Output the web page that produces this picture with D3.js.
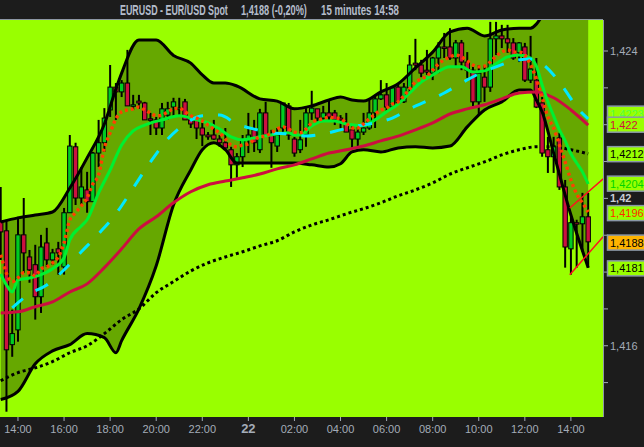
<!DOCTYPE html>
<html>
<head>
<meta charset="utf-8">
<script src="https://cdn.jsdelivr.net/npm/d3@7/dist/d3.min.js"></script>
<style>
  html, body { margin: 0; padding: 0; background: #1c1c1c; }
  svg { display: block; }
</style>
</head>
<body>
<svg id="chart" width="644" height="447"></svg>
<script>
// EURUSD 15 min — candles + bollinger + médias
const startTime = new Date(2009, 6, 21, 13, 15);
const barMinutes = 15;

const opens = [1.41936,1.41912,1.41603,1.41643,1.41901,1.41841,1.41820,1.41733,1.41879,1.41833,
  1.41863,1.41814,1.41961,1.42140,1.42001,1.42023,1.41991,1.42123,1.42151,1.42240,
  1.42302,1.42289,1.42313,1.42251,1.42264,1.42259,1.42216,1.42213,1.42191,1.42226,
  1.42248,1.42245,1.42262,1.42213,1.42213,1.42191,1.42172,1.42172,1.42161,1.42151,
  1.42132,1.42091,1.42113,1.42161,1.42186,1.42132,1.42232,1.42172,1.42142,1.42191,
  1.42251,1.42161,1.42132,1.42172,1.42232,1.42243,1.42218,1.42232,1.42232,1.42218,
  1.42202,1.42186,1.42161,1.42180,1.42191,1.42232,1.42270,1.42281,1.42248,1.42302,
  1.42262,1.42300,1.42367,1.42362,1.42348,1.42340,1.42381,1.42411,1.42411,1.42381,
  1.42422,1.42370,1.42348,1.42262,1.42329,1.42302,1.42433,1.42441,1.42433,1.42422,
  1.42395,1.42411,1.42321,1.42321,1.42259,1.42132,1.42113,1.42164,1.42031,1.41863,
  1.41934,1.41931,1.41950];
const highs = [1.42031,1.41942,1.41698,1.41950,1.42001,1.41860,1.41874,1.41901,1.41920,1.41863,
  1.41882,1.41974,1.42172,1.42151,1.42085,1.42072,1.42126,1.42213,1.42245,1.42362,
  1.42313,1.42321,1.42403,1.42281,1.42281,1.42262,1.42232,1.42221,1.42259,1.42262,
  1.42273,1.42273,1.42270,1.42221,1.42221,1.42213,1.42180,1.42213,1.42172,1.42191,
  1.42140,1.42123,1.42172,1.42232,1.42213,1.42243,1.42262,1.42186,1.42191,1.42259,
  1.42259,1.42167,1.42213,1.42245,1.42292,1.42243,1.42251,1.42267,1.42240,1.42226,
  1.42232,1.42199,1.42194,1.42232,1.42267,1.42281,1.42321,1.42313,1.42302,1.42313,
  1.42313,1.42389,1.42433,1.42376,1.42403,1.42384,1.42424,1.42449,1.42462,1.42430,
  1.42430,1.42397,1.42357,1.42362,1.42362,1.42479,1.42479,1.42471,1.42471,1.42435,
  1.42424,1.42422,1.42441,1.42381,1.42275,1.42167,1.42167,1.42178,1.42050,1.41950,
  1.41942,1.42015,1.42015];
const lows = [1.41833,1.41421,1.41570,1.41611,1.41798,1.41771,1.41671,1.41689,1.41814,1.41820,
  1.41793,1.41793,1.41961,1.41982,1.41980,1.41961,1.41991,1.42085,1.42126,1.42221,
  1.42213,1.42275,1.42251,1.42240,1.42243,1.42213,1.42172,1.42172,1.42172,1.42213,
  1.42221,1.42226,1.42213,1.42191,1.42161,1.42142,1.42159,1.42159,1.42140,1.42132,
  1.42031,1.42056,1.42085,1.42123,1.42126,1.42123,1.42172,1.42083,1.42126,1.42172,
  1.42159,1.42113,1.42123,1.42140,1.42213,1.42205,1.42213,1.42213,1.42199,1.42191,
  1.42180,1.42137,1.42140,1.42172,1.42186,1.42191,1.42267,1.42235,1.42245,1.42254,
  1.42259,1.42289,1.42348,1.42329,1.42335,1.42321,1.42340,1.42381,1.42376,1.42357,
  1.42348,1.42327,1.42245,1.42226,1.42262,1.42289,1.42389,1.42408,1.42395,1.42376,
  1.42370,1.42316,1.42313,1.42245,1.42113,1.42069,1.42069,1.42023,1.41812,1.41793,
  1.41812,1.41855,1.41812];
const closes = [1.41909,1.41589,1.41633,1.41901,1.41852,1.41806,1.41733,1.41868,1.41833,1.41852,
  1.41852,1.41961,1.42142,1.42001,1.42031,1.41991,1.42123,1.42151,1.42218,1.42302,
  1.42289,1.42313,1.42251,1.42254,1.42259,1.42213,1.42213,1.42191,1.42243,1.42243,
  1.42262,1.42245,1.42213,1.42202,1.42191,1.42172,1.42167,1.42161,1.42151,1.42137,
  1.42091,1.42113,1.42161,1.42172,1.42151,1.42232,1.42172,1.42151,1.42172,1.42259,
  1.42172,1.42123,1.42159,1.42232,1.42245,1.42218,1.42232,1.42221,1.42213,1.42213,
  1.42180,1.42161,1.42180,1.42191,1.42232,1.42270,1.42281,1.42248,1.42300,1.42259,
  1.42302,1.42362,1.42362,1.42340,1.42343,1.42381,1.42411,1.42408,1.42381,1.42422,
  1.42370,1.42348,1.42262,1.42340,1.42302,1.42433,1.42441,1.42433,1.42422,1.42381,
  1.42422,1.42321,1.42351,1.42248,1.42123,1.42113,1.42140,1.42031,1.41868,1.41934,
  1.41931,1.41950,1.41882];

// bandas de bollinger (mesmos índices de barra)
const bandIdx = [0,3,6,9,12,15,18,20,21,24,27,30,33,35,37,39,41,45,48,51,54,57,59,61,63,66,69,72,75,78,81,84,87,90,92,93,94,96,99,102];
const upperBand = [1.41936,1.41947,1.41955,1.41963,1.42028,1.42110,1.42202,1.42297,1.42340,1.42430,
  1.42430,1.42388,1.42367,1.42335,1.42313,1.42313,1.42305,1.42270,1.42264,1.42243,
  1.42251,1.42267,1.42275,1.42267,1.42264,1.42289,1.42311,1.42354,1.42397,1.42452,
  1.42462,1.42441,1.42457,1.42462,1.42462,1.42473,1.42495,1.42547,1.42587,1.42620];
const lowerBand = [1.41454,1.41476,1.41551,1.41586,1.41603,1.41633,1.41622,1.41581,1.41614,1.41700,
  1.41817,1.41982,1.42077,1.42132,1.42151,1.42132,1.42096,1.42096,1.42096,1.42096,
  1.42091,1.42085,1.42094,1.42126,1.42132,1.42126,1.42137,1.42140,1.42137,1.42142,
  1.42194,1.42240,1.42262,1.42294,1.42294,1.42267,1.42235,1.42123,1.41955,1.41812];

const middleBand = [[2,1.41703],[5,1.41741],[8,1.41765],[11,1.41806],[14,1.41855],[17,1.41904],
  [20,1.41958],[23,1.42028],[26,1.42099],[29,1.42161],[32,1.42202],[35,1.42224],[38,1.42226],
  [41,1.42202],[44,1.42188],[47,1.42178],[50,1.42175],[53,1.42169],[56,1.42175],[59,1.42186],
  [62,1.42197],[65,1.42205],[68,1.42218],[71,1.42243],[74,1.42264],[77,1.42286],[80,1.42313],
  [83,1.42338],[86,1.42357],[89,1.42373],[92,1.42378],[94,1.42365],[96,1.42335],[98,1.42294],
  [100,1.42248],[102,1.42216]];

const greenMA = [[0,1.41795],[1,1.41765],[2,1.41746],[3,1.41779],[5,1.41784],[7,1.41793],[9,1.41809],
  [11,1.41839],[12,1.41887],[14,1.41925],[15,1.41942],[17,1.42015],[19,1.42077],[21,1.42145],
  [23,1.42183],[25,1.42199],[28,1.42213],[31,1.42224],[34,1.42213],[36,1.42205],[38,1.42188],
  [40,1.42167],[42,1.42159],[45,1.42167],[48,1.42175],[50,1.42178],[51,1.42172],[52,1.42172],
  [54,1.42197],[56,1.42210],[58,1.42210],[60,1.42202],[63,1.42197],[65,1.42213],[67,1.42235],
  [69,1.42256],[71,1.42286],[73,1.42316],[75,1.42335],[78,1.42357],[80,1.42357],[82,1.42343],
  [84,1.42346],[86,1.42365],[88,1.42384],[90,1.42389],[92,1.42381],[93,1.42359],[94,1.42308],
  [95,1.42262],[96,1.42224],[97,1.42186],[98,1.42156],[99,1.42121],[100,1.42096],[101,1.42072],
  [102,1.42039]];

const redMA = [[0,1.41689],[3,1.41692],[6,1.41706],[9,1.41719],[12,1.41746],[15,1.41768],[18,1.41812],
  [21,1.41863],[24,1.41917],[27,1.41950],[30,1.41988],[33,1.42018],[36,1.42037],[39,1.42047],
  [42,1.42056],[45,1.42066],[48,1.42080],[51,1.42091],[54,1.42107],[57,1.42123],[60,1.42132],
  [63,1.42142],[66,1.42156],[69,1.42169],[72,1.42186],[75,1.42205],[78,1.42229],[81,1.42243],
  [84,1.42254],[87,1.42270],[90,1.42286],[93,1.42289],[96,1.42273],[99,1.42240],[102,1.42199]];

const longMA = [[0,1.41505],[3,1.41527],[6,1.41540],[9,1.41557],[12,1.41581],[15,1.41600],[18,1.41633],
  [21,1.41671],[24,1.41700],[27,1.41744],[30,1.41774],[33,1.41803],[36,1.41825],[39,1.41841],
  [42,1.41855],[45,1.41871],[48,1.41885],[51,1.41909],[54,1.41928],[57,1.41942],[60,1.41958],
  [63,1.41972],[66,1.41988],[69,1.42007],[72,1.42023],[75,1.42042],[78,1.42066],[81,1.42083],
  [84,1.42099],[87,1.42118],[90,1.42132],[93,1.42140],[96,1.42140],[99,1.42132],[102,1.42121]];

const fastMA = [[0,1.41847],[2,1.41774],[3,1.41784],[4,1.41798],[5,1.41798],[6,1.41790],[7,1.41809],
  [8,1.41814],[9,1.41825],[10,1.41841],[11,1.41879],[12,1.41942],[13,1.41961],[14,1.41980],
  [15,1.42001],[16,1.42039],[17,1.42064],[18,1.42137],[19,1.42178],[20,1.42216],[21,1.42235],
  [22,1.42240],[23,1.42243],[24,1.42248],[25,1.42240],[26,1.42232],[27,1.42224],[28,1.42226],
  [29,1.42235],[30,1.42243],[31,1.42245],[32,1.42235],[33,1.42224],[34,1.42218],[35,1.42210],
  [36,1.42199],[37,1.42188],[38,1.42178],[39,1.42161],[40,1.42145],[41,1.42140],[42,1.42145],
  [43,1.42148],[44,1.42159],[45,1.42167],[46,1.42169],[47,1.42178],[48,1.42188],[49,1.42194],
  [50,1.42188],[51,1.42180],[52,1.42178],[53,1.42188],[54,1.42205],[55,1.42213],[56,1.42216],
  [57,1.42221],[58,1.42218],[59,1.42216],[60,1.42205],[61,1.42191],[62,1.42191],[63,1.42202],
  [64,1.42216],[65,1.42229],[66,1.42240],[67,1.42245],[68,1.42256],[69,1.42262],[70,1.42278],
  [71,1.42297],[72,1.42316],[73,1.42324],[74,1.42332],[75,1.42348],[76,1.42365],[77,1.42376],
  [78,1.42384],[79,1.42389],[80,1.42384],[81,1.42373],[82,1.42362],[83,1.42357],[84,1.42359],
  [85,1.42370],[86,1.42386],[87,1.42397],[88,1.42403],[89,1.42397],[90,1.42397],[91,1.42389],
  [92,1.42362],[93,1.42324],[94,1.42273],[95,1.42221],[96,1.42191],[97,1.42145],[98,1.42099],
  [99,1.42050],[100,1.42012],[101,1.41988],[102,1.41963]];

// canal (linhas vermelhas finas no fim)
const channelIdx = [98.8, 104.6];
const channelUpper = [1.41974, 1.42053];
const channelLower = [1.41793, 1.41896];

// etiquetas de valor à direita (a primeira fica quase toda escondida)
const tagValues = [1.4223, 1.4220, 1.4212, 1.4204, 1.4196, 1.4188, 1.4181];
const tagInk    = ['#55ff44', '#d0103c', '#000000', '#00d400', '#ff2a00', '#000000', '#000000'];
const tagBg     = ['#99ff00', '#99ff00', '#99ff00', '#99ff00', '#99ff00', '#ffb400', '#99ff00'];

const yLabelValues = [1.424, 1.42, 1.416];
const yMinorValues = [1.415, 1.416, 1.417, 1.418, 1.419, 1.42, 1.421, 1.422, 1.423, 1.424];
const titleParts = ['EURUSD - EUR/USD Spot', '1,4188 (-0,20%)', '15 minutes  14:58'];

/* ------------------------------------------------------------------ */
const LIME = '#99ff00', OLIVE = '#66a800', GREY = '#a4acb8';
const FONT = 'Liberation Sans, Arial, sans-serif';
const plot = { x0: 0, x1: 603, y0: 20, y1: 417 };

const barTime = (i) => new Date(startTime.getTime() + i * barMinutes * 60000);
const nBars = opens.length;
const x = d3.scaleTime().domain([barTime(0), barTime(nBars - 1)]).range([0.7, 588.2]);
const xi = (i) => x(barTime(i));
const y = d3.scaleLinear().domain([1.416, 1.424]).range([345.75, 51]);
const comma = (v) => String(v).replace('.', ',');

const svg = d3.select('#chart');
svg.append('rect').attr('width', 644).attr('height', 447).attr('fill', '#1c1c1c');

svg.append('defs').append('clipPath').attr('id', 'plotClip')
  .append('rect').attr('x', plot.x0).attr('y', plot.y0)
  .attr('width', plot.x1 - plot.x0).attr('height', plot.y1 - plot.y0);

svg.append('rect').attr('x', plot.x0).attr('y', plot.y0)
  .attr('width', plot.x1 - plot.x0).attr('height', plot.y1 - plot.y0).attr('fill', LIME);

const g = svg.append('g').attr('clip-path', 'url(#plotClip)');

// preenchimento entre as bandas
const bands = bandIdx.map((b, k) => ({ i: b, hi: upperBand[k], lo: lowerBand[k] }));
g.append('path').datum(bands)
  .attr('d', d3.area().x((d) => xi(d.i)).y0((d) => y(d.lo)).y1((d) => y(d.hi)).curve(d3.curveMonotoneX))
  .attr('fill', OLIVE);

const line = d3.line().x((d) => xi(d[0])).y((d) => y(d[1])).curve(d3.curveMonotoneX);

// média longa pontilhada
g.append('path').datum(longMA).attr('d', line)
  .attr('fill', 'none').attr('stroke', '#000').attr('stroke-width', 3).attr('stroke-dasharray', '3,3');

// candles
const candles = d3.range(nBars).map((i) => ({ i, o: opens[i], h: highs[i], l: lows[i], c: closes[i] }));
const cg = g.append('g').selectAll('g').data(candles).join('g');
cg.append('line')
  .attr('x1', (d) => xi(d.i)).attr('x2', (d) => xi(d.i))
  .attr('y1', (d) => y(d.h)).attr('y2', (d) => y(d.l))
  .attr('stroke', '#000').attr('stroke-width', 2);
cg.append('rect')
  .attr('x', (d) => xi(d.i) - 2.2).attr('width', 4.4)
  .attr('y', (d) => y(Math.max(d.o, d.c)))
  .attr('height', (d) => Math.max(1.5, Math.abs(y(d.o) - y(d.c))))
  .attr('fill', (d) => d.c >= d.o ? '#00cc22' : '#cc1040')
  .attr('stroke', '#000').attr('stroke-width', 1);

// bandas
[upperBand, lowerBand].forEach((vals) => {
  g.append('path').datum(bandIdx.map((b, k) => [b, vals[k]])).attr('d', line)
    .attr('fill', 'none').attr('stroke', '#000').attr('stroke-width', 3);
});

g.append('path').datum(redMA).attr('d', line)
  .attr('fill', 'none').attr('stroke', '#cc0e40').attr('stroke-width', 3);
g.append('path').datum(greenMA).attr('d', line)
  .attr('fill', 'none').attr('stroke', '#00f030').attr('stroke-width', 3);
g.append('path').datum(middleBand).attr('d', line)
  .attr('fill', 'none').attr('stroke', '#00e8ff').attr('stroke-width', 3).attr('stroke-dasharray', '14,15');
g.append('path').datum(fastMA).attr('d', line)
  .attr('fill', 'none').attr('stroke', '#ff4000').attr('stroke-width', 3.4).attr('stroke-dasharray', '3,3');

// canal
[channelUpper, channelLower].forEach((vals) => {
  g.append('path').datum(channelIdx.map((b, k) => [b, vals[k]]))
    .attr('d', d3.line().x((d) => xi(d[0])).y((d) => y(d[1])))
    .attr('fill', 'none').attr('stroke', '#ff1020').attr('stroke-width', 1.5);
});

// moldura
svg.append('line').attr('x1', 0).attr('x2', plot.x1).attr('y1', plot.y0 - 0.5).attr('y2', plot.y0 - 0.5)
  .attr('stroke', '#8c96a4').attr('stroke-width', 1);
svg.append('line').attr('x1', plot.x1 + 0.5).attr('x2', plot.x1 + 0.5).attr('y1', plot.y0).attr('y2', plot.y1)
  .attr('stroke', '#8c96a4').attr('stroke-width', 1);

// eixo direito
const ya = svg.append('g');
ya.selectAll('line.minor').data(yMinorValues).join('line')
  .attr('x1', plot.x1 + 1).attr('x2', plot.x1 + 5)
  .attr('y1', (d) => y(d)).attr('y2', (d) => y(d))
  .attr('stroke', GREY).attr('stroke-width', 1);
ya.selectAll('text').data(yLabelValues).join('text')
  .attr('x', 610).attr('y', (d) => y(d) + 4)
  .attr('font-family', FONT).attr('font-size', 11)
  .attr('font-weight', (d) => d === 1.42 ? 'bold' : 'normal')
  .attr('fill', (d) => d === 1.42 ? '#c8ccd4' : GREY)
  .text(comma);

// etiquetas de valor
const tg = svg.append('g').selectAll('g').data(tagValues).join('g');
tg.append('rect')
  .attr('x', 607.5).attr('y', (d) => y(d) - 7.5).attr('width', 40).attr('height', 15)
  .attr('fill', (d, k) => tagBg[k]).attr('stroke', '#8a98a8').attr('stroke-width', 1.5);
tg.append('text')
  .attr('x', 610).attr('y', (d) => y(d) + 4)
  .attr('font-family', FONT).attr('font-size', 11)
  .attr('fill', (d, k) => tagInk[k])
  .text(comma);

// eixo inferior
const ticks = x.ticks(d3.timeHour.every(2));
const xa = svg.append('g');
xa.selectAll('line').data(ticks).join('line')
  .attr('x1', (d) => x(d)).attr('x2', (d) => x(d))
  .attr('y1', plot.y1).attr('y2', plot.y1 + 4)
  .attr('stroke', GREY).attr('stroke-width', 1);
xa.selectAll('text').data(ticks).join('text')
  .attr('x', (d) => x(d)).attr('y', 433)
  .attr('text-anchor', 'middle')
  .attr('font-family', FONT)
  .attr('font-size', (d) => d.getHours() === 0 ? 13 : 11)
  .attr('font-weight', (d) => d.getHours() === 0 ? 'bold' : 'normal')
  .attr('fill', GREY)
  .text((d) => d.getHours() === 0 ? d3.timeFormat('%d')(d) : d3.timeFormat('%H:%M')(d));

// título — fonte estreita, comprimida horizontalmente até caber na largura do original
const titleX = [120, 241, 321];
const titleW = [108, 66, 78];
svg.selectAll('text.title').data(titleParts).join('text')
  .attr('class', 'title')
  .attr('x', 0).attr('y', 0)
  .attr('font-family', 'Liberation Sans Narrow, Arial Narrow, Arial, sans-serif')
  .attr('font-size', 14.5).attr('font-weight', 'bold')
  .attr('fill', '#b4bccb')
  .text((d) => d)
  .each(function (d, k) {
    const w = this.getComputedTextLength() || titleW[k];
    const s = Math.min(1, titleW[k] / w);
    d3.select(this).attr('transform', `translate(${titleX[k]},15) scale(${s},1)`);
  });
</script>
</body>
</html>
